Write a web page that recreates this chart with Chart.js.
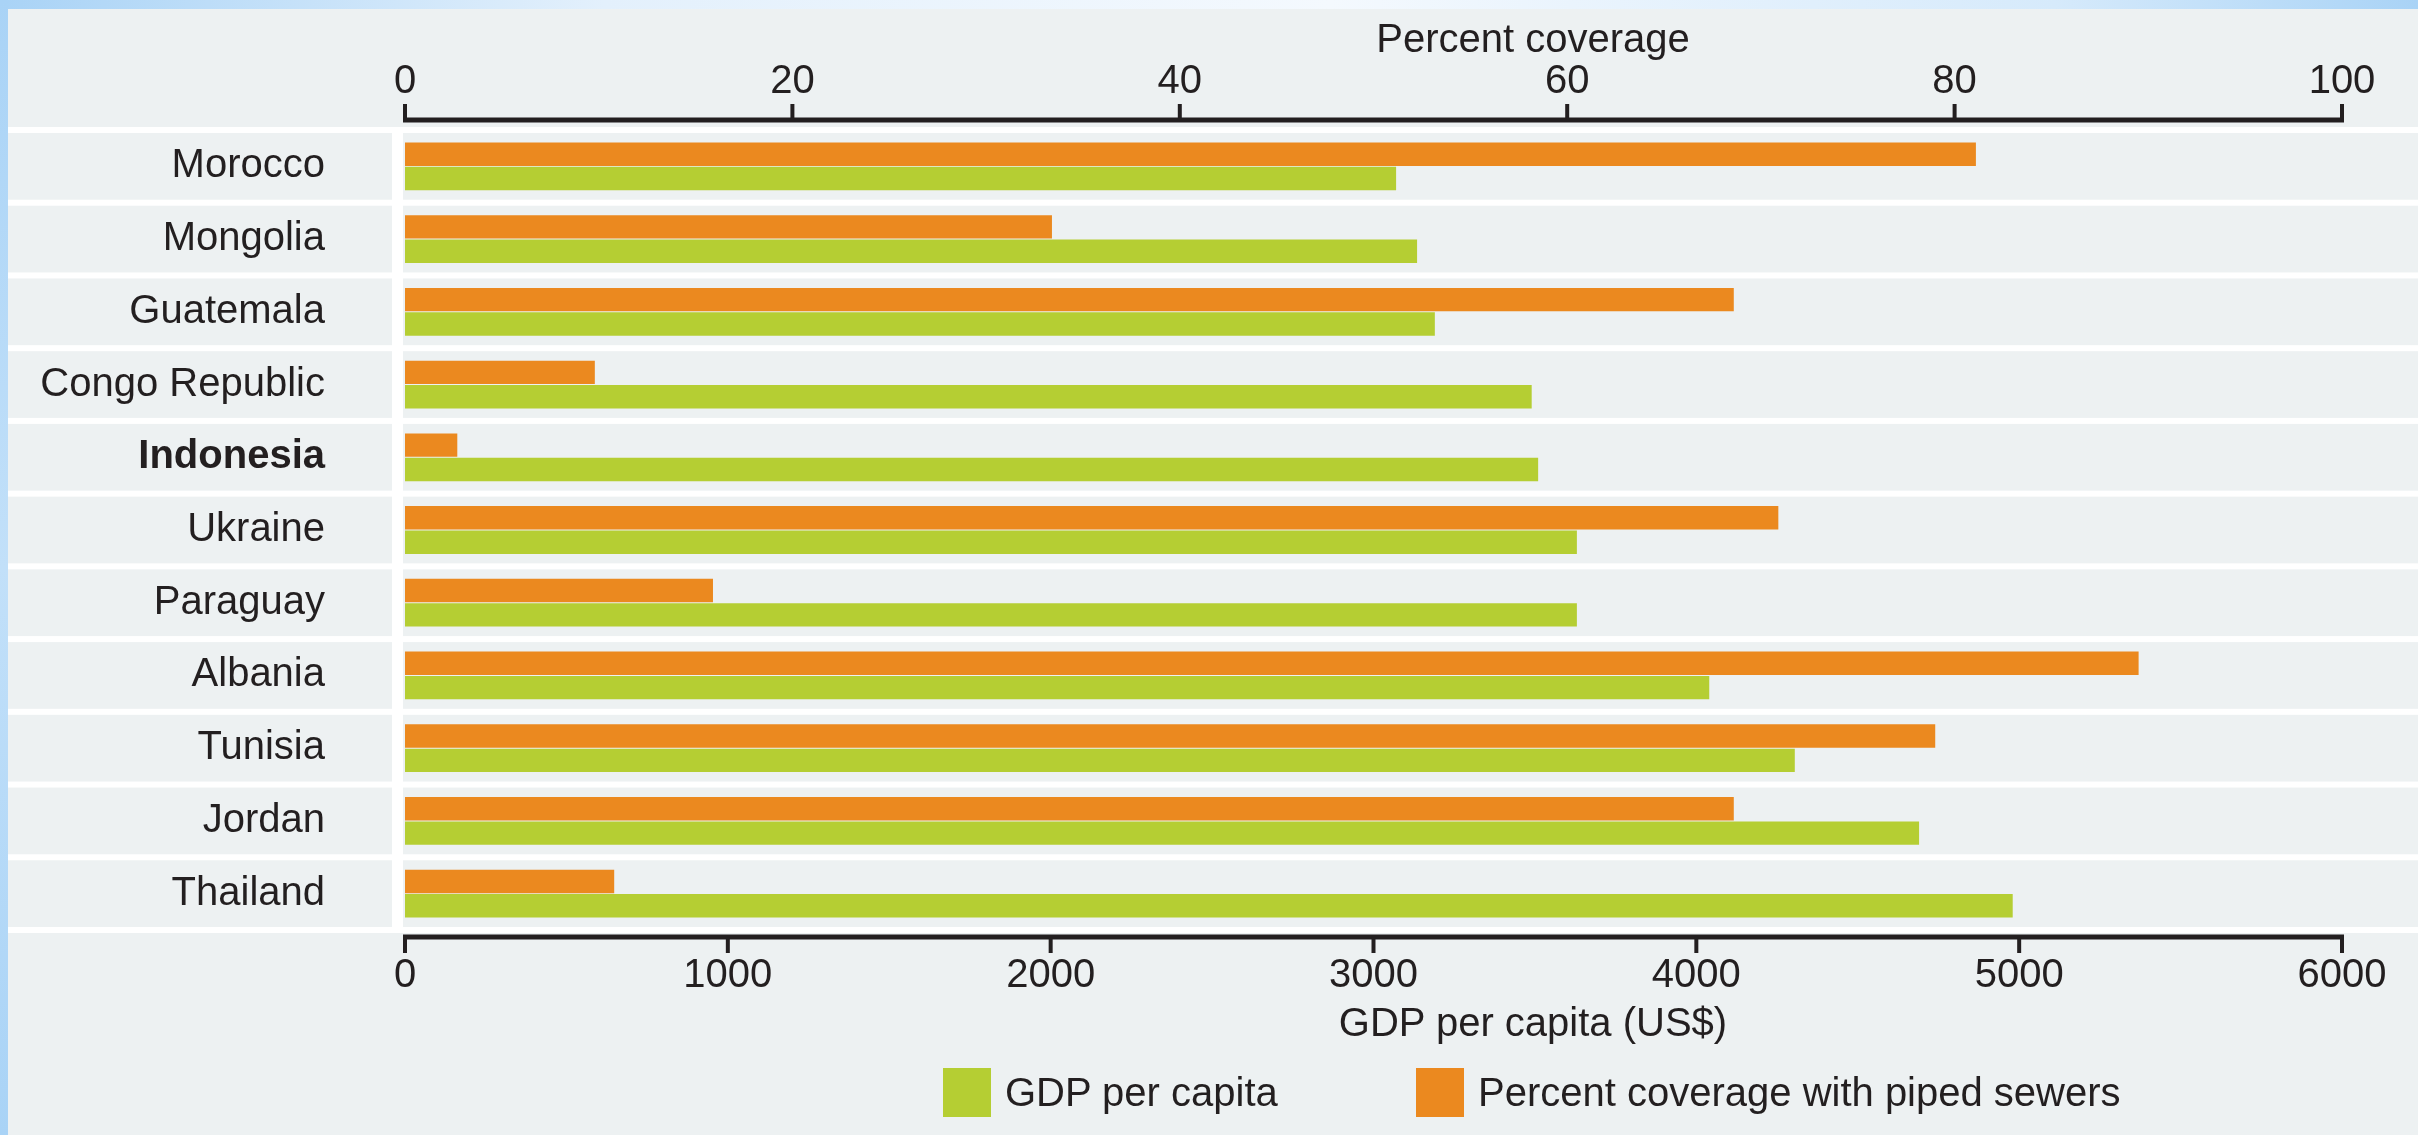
<!DOCTYPE html>
<html>
<head>
<meta charset="utf-8">
<script src="https://cdn.jsdelivr.net/npm/chart.js@4.4.1/dist/chart.umd.min.js"></script>
<style>
body { margin:0; width:2418px; height:1135px; overflow:hidden; position:relative;
  background: linear-gradient(to right, #a9d3f6 0%, #e3f0fc 25%, #f4f9fe 55%, #d6eafb 85%, #a9d3f6 100%);
  font-family: "Liberation Sans", Arial, sans-serif; color:#231f20; }
#leftband { position:absolute; left:0; top:0; width:8px; height:100%; background: linear-gradient(to bottom, #a9d3f6, #c2e0f9 50%, #a9d3f6); }
#panel { position:absolute; left:8px; top:9px; right:0; bottom:0; background:#edf1f2; }
canvas { position:absolute; left:0; top:0; }
.txt { position:absolute; font-size:40px; line-height:48px; white-space:nowrap; }
.box { position:absolute; width:48px; height:49px; }
</style>
</head>
<body>
<div id="leftband"></div>
<div id="panel"></div>
<canvas id="grafic" width="2418" height="1135"></canvas>
<div class="txt" style="left:1533px; top:14px; transform:translateX(-50%)">Percent coverage</div>
<div class="txt" style="left:1533px; top:998px; transform:translateX(-50%)">GDP per capita (US$)</div>
<div class="box" style="left:943px; top:1068px; background:#b5ce33"></div>
<div class="txt" style="left:1005px; top:1068px">GDP per capita</div>
<div class="box" style="left:1416px; top:1068px; background:#eb891f"></div>
<div class="txt" style="left:1478px; top:1068px">Percent coverage with piped sewers</div>
<script>
// Date
const tari = ["Morocco", "Mongolia", "Guatemala", "Congo Republic", "Indonesia", "Ukraine",
              "Paraguay", "Albania", "Tunisia", "Jordan", "Thailand"];
const pibPeCap = [3070, 3135, 3190, 3490, 3510, 3630, 3630, 4040, 4305, 4690, 4980];
const acoperireCanalizare = [81.1, 33.4, 68.6, 9.8, 2.7, 70.9, 15.9, 89.5, 79.0, 68.6, 10.8];
const culoareVerde = "#b5ce33";
const culoarePortocaliu = "#eb891f";
const culoareText = "#231f20";

// Benzi albe intre randuri
const benziRanduri = {
    id: "benziRanduri",
    beforeDatasetsDraw(chart) {
        const ctx = chart.ctx;
        const y = chart.scales.y;
        const jum = (y.getPixelForValue(1) - y.getPixelForValue(0)) / 2;
        const area = chart.chartArea;
        ctx.save();
        ctx.fillStyle = "#ffffff";
        for (let i = 0; i <= tari.length; i++) {
            const yy = i < tari.length ? y.getPixelForValue(i) - jum : y.getPixelForValue(tari.length - 1) + jum;
            ctx.fillRect(8, yy - 3, chart.width, 6);
        }
        ctx.fillRect(area.left - 13, area.top - 3, 11, area.bottom - area.top + 6);
        ctx.restore();
    }
};

// Axe desenate ca in original (linie groasa + gradatii)
const axeGroase = {
    id: "axeGroase",
    afterDraw(chart) {
        const ctx = chart.ctx;
        const area = chart.chartArea;
        ctx.save();
        ctx.strokeStyle = culoareText;
        ctx.lineCap = "butt";
        const deseneaza = (scala, yLinie, dir) => {
            ctx.lineWidth = 5;
            ctx.beginPath();
            ctx.moveTo(scala.getPixelForValue(scala.min) - 2, yLinie);
            ctx.lineTo(scala.getPixelForValue(scala.max) + 2, yLinie);
            ctx.stroke();
            ctx.lineWidth = 4;
            scala.ticks.forEach(t => {
                const x = scala.getPixelForValue(t.value);
                ctx.beginPath();
                ctx.moveTo(x, yLinie);
                ctx.lineTo(x, yLinie + dir * 16);
                ctx.stroke();
            });
        };
        deseneaza(chart.scales.x2, area.top - 10, -1);
        deseneaza(chart.scales.x, area.bottom + 7, 1);
        ctx.restore();
    }
};

const grafic = new Chart(document.getElementById("grafic").getContext("2d"), {
    type: "bar",
    data: {
        labels: tari,
        datasets: [
            { label: "Percent coverage with piped sewers", data: acoperireCanalizare, xAxisID: "x2",
              backgroundColor: culoarePortocaliu, categoryPercentage: 0.67, barPercentage: 0.96 },
            { label: "GDP per capita", data: pibPeCap, xAxisID: "x",
              backgroundColor: culoareVerde, categoryPercentage: 0.67, barPercentage: 0.96 }
        ]
    },
    options: {
        indexAxis: "y",
        responsive: false,
        animation: false,
        layout: { padding: { left: 0, right: 76, top: 0, bottom: 0 } },
        plugins: { legend: { display: false }, tooltip: { enabled: false } },
        scales: {
            y: {
                grid: { display: false, drawTicks: false },
                border: { display: false },
                ticks: {
                    padding: 80,
                    color: culoareText,
                    font: ctx => ({ family: "'Liberation Sans', Arial, sans-serif", size: 40,
                                    weight: ctx.index === 4 ? "bold" : "normal" })
                },
                afterFit: s => { s.width = 405; }
            },
            x: {
                position: "bottom", min: 0, max: 6000,
                grid: { display: false, drawTicks: false },
                border: { display: false },
                ticks: { stepSize: 1000, padding: 22, color: culoareText, maxRotation: 0,
                         callback: v => String(v),
                         font: { family: "'Liberation Sans', Arial, sans-serif", size: 40 } },
                afterFit: s => { s.height = 205; }
            },
            x2: {
                position: "top", min: 0, max: 100,
                grid: { display: false, drawTicks: false },
                border: { display: false },
                ticks: { stepSize: 20, padding: 24, color: culoareText, maxRotation: 0,
                         callback: v => String(v),
                         font: { family: "'Liberation Sans', Arial, sans-serif", size: 40 } },
                afterFit: s => { s.height = 130; }
            }
        }
    },
    plugins: [benziRanduri, axeGroase]
});
</script>
</body>
</html>
